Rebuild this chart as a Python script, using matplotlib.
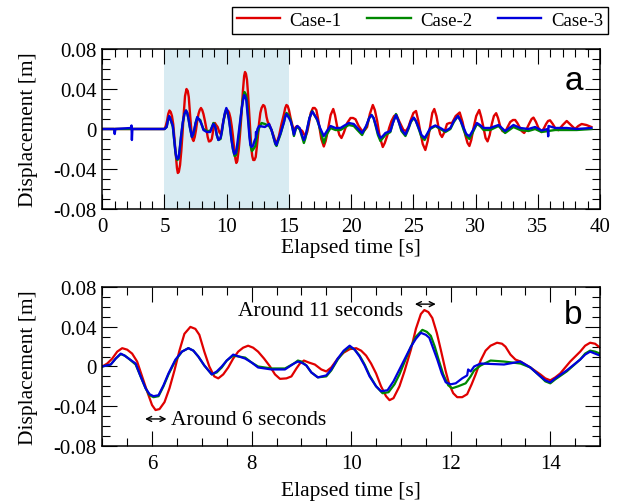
import numpy as np
import matplotlib
matplotlib.use("Agg")
import matplotlib.pyplot as plt
from matplotlib.ticker import MultipleLocator, FuncFormatter

plt.rcParams['font.family'] = ['Liberation Serif', 'DejaVu Serif']
plt.rcParams['axes.unicode_minus'] = False

# displacement histories: time [s], displacement [m]
t_case1 = [0.0, 4.9, 5.0, 5.1, 5.2, 5.3, 5.4, 5.5, 5.6, 5.7, 5.8, 5.9, 6.0, 6.07, 6.15, 6.25, 6.35,
           6.45, 6.55, 6.65, 6.77, 6.87, 6.95, 7.05, 7.15, 7.25, 7.33, 7.43, 7.53, 7.63, 7.73,
           7.83, 7.93, 8.03, 8.13, 8.25, 8.37, 8.47, 8.57, 8.7, 8.8, 8.9, 8.97, 9.05, 9.15, 9.27,
           9.4, 9.5, 9.6, 9.73, 9.85, 9.97, 10.1, 10.2, 10.3, 10.4, 10.5, 10.6, 10.7, 10.77,
           10.85, 10.97, 11.07, 11.2, 11.3, 11.4, 11.47, 11.55, 11.63, 11.72, 11.8, 11.9, 11.97,
           12.05, 12.13, 12.23, 12.33, 12.42, 12.5, 12.6, 12.7, 12.8, 12.93, 13.03, 13.1, 13.2,
           13.3, 13.4, 13.5, 13.6, 13.8, 13.9, 14.0, 14.1, 14.2, 14.4, 14.6, 14.7, 14.8, 14.9,
           15.0, 15.13, 15.27, 15.4, 15.55, 15.67, 15.85, 16.07, 16.2, 16.34, 16.47, 16.6, 16.75,
           16.93, 17.07, 17.2, 17.33, 17.46, 17.6, 17.8, 17.95, 18.05, 18.2, 18.35, 18.56, 18.7,
           18.88, 19.05, 19.22, 19.4, 19.68, 19.95, 20.15, 20.35, 20.6, 20.88, 21.1, 21.28, 21.5,
           21.74, 21.9, 22.09, 22.3, 22.54, 22.7, 22.89, 23.05, 23.24, 23.45, 23.64, 23.85,
           24.04, 24.2, 24.41, 24.6, 24.76, 25.0, 25.21, 25.4, 25.56, 25.75, 25.96, 26.15, 26.36,
           26.52, 26.68, 26.85, 27.03, 27.15, 27.3, 27.5, 27.7, 27.9, 28.1, 28.4, 28.72, 28.95,
           29.17, 29.35, 29.5, 29.65, 29.83, 30.05, 30.29, 30.45, 30.64, 30.8, 30.96, 31.13,
           31.3, 31.47, 31.65, 31.8, 31.97, 32.15, 32.37, 32.57, 32.78, 33.0, 33.18, 33.35,
           33.52, 33.7, 33.9, 34.1, 34.33, 34.5, 34.65, 34.85, 35.05, 35.3, 35.5, 35.66, 35.82,
           35.98, 36.2, 36.39, 36.65, 37.0, 37.32, 37.65, 37.99, 38.25, 38.52, 38.9, 39.3]
d_case1 = [0.0, 0.0, 0.0, 0.003, 0.008, 0.015, 0.0185, 0.017, 0.013, 0.005, -0.010, -0.025,
           -0.039, -0.044, -0.043, -0.036, -0.022, -0.004, 0.016, 0.033, 0.040, 0.038, 0.032,
           0.015, 0.0, -0.010, -0.012, -0.008, -0.001, 0.008, 0.015, 0.019, 0.021, 0.019, 0.015,
           0.008, 0.0, -0.008, -0.0125, -0.012, -0.010, -0.002, 0.003, 0.006, 0.004, 0.002,
           -0.003, -0.005, -0.001, 0.008, 0.014, 0.0175, 0.0185, 0.016, 0.011, 0.003, -0.007,
           -0.020, -0.030, -0.034, -0.032, -0.020, -0.005, 0.017, 0.038, 0.053, 0.057, 0.055,
           0.049, 0.034, 0.017, -0.005, -0.018, -0.027, -0.031, -0.031, -0.028, -0.018, -0.008,
           0.006, 0.016, 0.021, 0.024, 0.023, 0.020, 0.012, 0.007, 0.005, 0.002, -0.001, -0.008,
           -0.012, -0.014, -0.011, -0.007, 0.005, 0.015, 0.021, 0.024, 0.023, 0.019, 0.011,
           0.004, -0.002, 0.002, 0.003, 0.0, -0.002, -0.005, -0.007, -0.003, 0.005, 0.016, 0.021,
           0.021, 0.019, 0.011, 0.001, -0.010, -0.0175, -0.012, -0.006, 0.004, 0.014, 0.020,
           0.014, 0.002, -0.006, -0.009, -0.004, 0.006, 0.011, 0.011, 0.0097, 0.003, -0.002,
           -0.001, 0.002, 0.015, 0.024, 0.019, 0.008, -0.008, -0.018, -0.014, -0.007, 0.001,
           0.008, 0.013, 0.014, 0.008, 0.003, -0.001, -0.002, 0.002, 0.008, 0.016, 0.018, 0.008,
           -0.003, -0.015, -0.021, -0.012, 0.004, 0.016, 0.020, 0.013, 0.001, -0.005, -0.008,
           -0.003, 0.005, 0.006, 0.006, 0.013, 0.0165, 0.007, -0.006, -0.014, -0.017, -0.011,
           0.001, 0.013, 0.019, 0.012, 0.001, -0.009, -0.0124, -0.006, 0.005, 0.013, 0.0158,
           0.011, 0.003, -0.002, -0.003, 0.002, 0.007, 0.009, 0.009, 0.006, 0.002, -0.002,
           -0.004, 0.0, 0.006, 0.010, 0.0114, 0.007, 0.001, -0.003, 0.001, 0.005, 0.008, 0.0087,
           0.005, 0.001, -0.0012, 0.004, 0.008, 0.004, 0.0, 0.003, 0.005, 0.004, 0.002]

t_case2 = [0.0, 4.9, 5.0, 5.17, 5.27, 5.37, 5.45, 5.53, 5.67, 5.77, 5.87, 5.95, 6.03, 6.13, 6.23,
           6.33, 6.47, 6.6, 6.73, 6.83, 6.93, 7.05, 7.2, 7.3, 7.4, 7.5, 7.63, 7.75, 7.87, 8.0,
           8.13, 8.4, 8.67, 8.85, 8.93, 9.0, 9.1, 9.2, 9.33, 9.5, 9.6, 9.73, 9.85, 9.97, 10.07,
           10.17, 10.27, 10.37, 10.5, 10.63, 10.75, 10.87, 10.97, 11.1, 11.2, 11.3, 11.43, 11.52,
           11.6, 11.68, 11.75, 11.85, 11.95, 12.03, 12.15, 12.3, 12.4, 12.47, 12.6, 12.8, 13.07,
           13.4, 13.6, 13.8, 13.9, 14.0, 14.1, 14.33, 14.6, 14.7, 14.8, 14.9, 15.0, 15.13, 15.27,
           15.4, 15.55, 15.67, 15.86, 16.05, 16.2, 16.33, 16.47, 16.65, 16.87, 17.05, 17.27,
           17.5, 17.8, 18.05, 18.34, 18.74, 19.14, 19.4, 19.81, 20.21, 20.5, 20.88, 21.2, 21.45,
           21.63, 21.8, 21.95, 22.15, 22.35, 22.55, 22.75, 23.15, 23.35, 23.6, 23.8, 24.04,
           24.36, 24.6, 24.8, 25.03, 25.2, 25.43, 25.65, 25.9, 26.1, 26.36, 26.76, 27.17, 27.57,
           27.97, 28.25, 28.58, 28.8, 29.04, 29.25, 29.5, 29.75, 30.1, 30.35, 30.64, 31.17,
           31.84, 32.37, 33.04, 33.58, 34.25, 34.78, 35.3, 36.39, 37.32, 38.12, 39.3]
d_case2 = [0.0, 0.0, 0.0, 0.002, 0.008, 0.0125, 0.011, 0.008, 0.002, -0.010, -0.022, -0.029,
           -0.031, -0.030, -0.020, -0.008, 0.006, 0.015, 0.0185, 0.016, 0.010, 0.001, -0.008,
           -0.006, -0.001, 0.006, 0.011, 0.010, 0.009, 0.004, 0.0, -0.002, -0.002, 0.003, 0.006,
           0.005, 0.001, -0.006, -0.011, -0.010, -0.004, 0.007, 0.015, 0.020, 0.017, 0.011,
           0.002, -0.009, -0.020, -0.027, -0.026, -0.018, -0.008, 0.008, 0.020, 0.030, 0.037,
           0.035, 0.031, 0.020, 0.008, -0.008, -0.019, -0.022, -0.020, -0.017, -0.010, -0.004,
           0.001, 0.006, 0.005, 0.003, -0.001, -0.010, -0.015, -0.017, -0.013, -0.005, 0.007,
           0.013, 0.016, 0.015, 0.013, 0.009, 0.002, -0.007, 0.0, 0.002, 0.0, -0.008, -0.014,
           -0.009, 0.0, 0.011, 0.018, 0.014, 0.009, 0.0, -0.014, -0.005, 0.001, -0.001, -0.001,
           0.001, 0.004, 0.003, -0.001, -0.006, 0.002, 0.011, 0.014, 0.011, 0.004, -0.006,
           -0.012, -0.009, -0.006, -0.003, 0.006, 0.015, 0.008, -0.002, -0.007, 0.0, 0.007,
           0.011, 0.008, 0.0, -0.008, -0.011, -0.006, 0.0, 0.003, 0.0, -0.003, 0.0, 0.007, 0.013,
           0.008, -0.001, -0.007, -0.010, -0.004, 0.005, 0.003, -0.001, -0.001, 0.003, -0.004,
           0.002, -0.001, -0.002, 0.0, -0.003, -0.001, -0.001, -0.001, 0.0]

t_case3 = [0.0, 0.95, 1.0, 1.05, 2.3, 2.35, 2.38, 2.42, 4.9, 5.0, 5.17, 5.27, 5.37, 5.45, 5.53,
           5.67, 5.77, 5.87, 5.95, 6.03, 6.13, 6.23, 6.33, 6.47, 6.6, 6.73, 6.83, 6.93, 7.05, 7.2,
           7.3, 7.4, 7.5, 7.63, 7.75, 7.87, 8.0, 8.13, 8.4, 8.67, 8.85, 8.93, 9.0, 9.1, 9.2, 9.33,
           9.5, 9.6, 9.73, 9.85, 9.97, 10.07, 10.17, 10.27, 10.37, 10.5, 10.6, 10.73, 10.85,
           10.97, 11.1, 11.2, 11.3, 11.4, 11.5, 11.57, 11.65, 11.73, 11.82, 11.9, 12.0, 12.1,
           12.23, 12.33, 12.35, 12.4, 12.47, 12.6, 13.07, 13.4, 13.6, 13.8, 13.9, 14.0, 14.1,
           14.33, 14.6, 14.7, 14.8, 14.9, 15.0, 15.13, 15.27, 15.4, 15.55, 15.67, 15.86, 16.05,
           16.2, 16.33, 16.47, 16.65, 16.87, 17.05, 17.27, 17.5, 17.8, 18.05, 18.34, 18.74,
           19.14, 19.4, 19.81, 20.21, 20.5, 20.88, 21.2, 21.45, 21.63, 21.8, 21.95, 22.15, 22.35,
           22.55, 22.75, 23.15, 23.35, 23.6, 23.8, 24.04, 24.36, 24.6, 24.8, 25.03, 25.2, 25.43,
           25.65, 25.9, 26.1, 26.36, 26.76, 27.17, 27.57, 27.97, 28.25, 28.58, 28.8, 29.04,
           29.25, 29.5, 29.75, 30.1, 30.35, 30.64, 31.17, 31.84, 32.37, 33.04, 33.58, 34.25,
           34.78, 35.3, 35.8, 35.83, 35.86, 36.39, 37.32, 38.12, 39.3]
d_case3 = [0.0, 0.0, -0.005, 0.0, 0.001, 0.0035, -0.011, 0.0, 0.0, 0.0, 0.002, 0.008, 0.013,
           0.011, 0.008, 0.003, -0.010, -0.022, -0.028, -0.030, -0.029, -0.019, -0.007, 0.007,
           0.015, 0.0185, 0.016, 0.010, 0.001, -0.008, -0.005, 0.0, 0.006, 0.012, 0.010, 0.008,
           0.004, -0.001, -0.003, -0.003, 0.003, 0.005, 0.004, 0.001, -0.006, -0.011, -0.009,
           -0.003, 0.008, 0.016, 0.021, 0.017, 0.010, 0.001, -0.010, -0.020, -0.025, -0.024,
           -0.015, -0.003, 0.010, 0.020, 0.028, 0.034, 0.032, 0.029, 0.018, 0.007, -0.007,
           -0.016, -0.018, -0.017, -0.012, -0.009, -0.003, -0.005, 0.0, 0.003, 0.002, 0.005,
           -0.001, -0.010, -0.014, -0.016, -0.012, -0.004, 0.007, 0.012, 0.015, 0.013, 0.011,
           0.008, 0.002, -0.0056, 0.001, 0.003, 0.001, -0.006, -0.011, -0.007, 0.001, 0.011,
           0.0175, 0.014, 0.0097, 0.001, -0.007, -0.002, 0.003, 0.001, 0.001, 0.003, 0.006,
           0.005, 0.001, -0.004, 0.003, 0.011, 0.014, 0.011, 0.005, -0.004, -0.009, -0.007,
           -0.004, -0.002, 0.006, 0.014, 0.008, -0.0005, -0.0056, 0.001, 0.008, 0.0114, 0.008,
           0.001, -0.006, -0.009, -0.005, 0.001, 0.0035, 0.001, -0.002, 0.001, 0.008, 0.013,
           0.008, 0.001, -0.005, -0.0073, -0.002, 0.006, 0.004, 0.001, 0.001, 0.004, -0.002,
           0.004, 0.001, 0.0, 0.002, -0.0015, 0.0, -0.0073, 0.003, 0.001, 0.001, 0.0, 0.001]

cases = [("Case-1", t_case1, d_case1, "#e00000"),
         ("Case-2", t_case2, d_case2, "#008800"),
         ("Case-3", t_case3, d_case3, "#0000dd")]

zoom_start, zoom_end = 5, 15


def yfmt(v, pos):
    if abs(v) < 1e-9:
        return "0"
    return "%.2f" % v


def style_axes(ax, xmajor, xminor, xlabelpad):
    ax.set_ylim(-0.08, 0.08)
    ax.yaxis.set_major_locator(MultipleLocator(0.04))
    ax.yaxis.set_minor_locator(MultipleLocator(0.01))
    ax.yaxis.set_major_formatter(FuncFormatter(yfmt))
    ax.xaxis.set_major_locator(MultipleLocator(xmajor))
    ax.xaxis.set_minor_locator(MultipleLocator(xminor))
    ax.tick_params(which='both', direction='in', top=True, right=True, labelsize=15, width=0.8)
    ax.tick_params(which='major', length=11)
    ax.tick_params(which='minor', length=5.5)
    ax.tick_params(axis='x', which='major', pad=6)
    ax.tick_params(axis='y', which='major', pad=4)
    for s in ax.spines.values():
        s.set_linewidth(1.1)
    ax.set_xlabel("Elapsed time [s]", fontsize=15.5, labelpad=xlabelpad)
    ax.set_ylabel("Displacement [m]", fontsize=15.5, labelpad=11)


fig = plt.figure(figsize=(6.29, 5.02), dpi=100)
ax_a = fig.add_axes([0.1626, 0.5817, 0.7914, 0.3187])
ax_b = fig.add_axes([0.1626, 0.1102, 0.7914, 0.3155])

# (a) whole record, window of (b) shaded
ax_a.axvspan(zoom_start, zoom_end, color="#d8ebf2", lw=0, zorder=0)
for name, t, d, c in cases:
    ax_a.plot(t, d, color=c, lw=1.7, label=name)
ax_a.set_xlim(0, 40)
style_axes(ax_a, 5, 1, 1)
ax_a.text(0.965, 0.80, "a", transform=ax_a.transAxes, fontsize=24,
          family='Liberation Sans', ha='right', va='center')

# (b) close-up 5-15 s
for name, t, d, c in cases:
    ax_b.plot(t, d, color=c, lw=1.6)
ax_b.set_xlim(zoom_start, zoom_end)
style_axes(ax_b, 2, 0.5, 6)
ax_b.text(0.965, 0.83, "b", transform=ax_b.transAxes, fontsize=24,
          family='Liberation Sans', ha='right', va='center')

ax_b.annotate("", xy=(11.28, 0.063), xytext=(11.70, 0.063),
              arrowprops=dict(arrowstyle="<->", color="black", lw=1.0,
                              shrinkA=0, shrinkB=0, mutation_scale=9))
ax_b.text(11.05, 0.0565, "Around 11 seconds", fontsize=15.5, ha='right', va='center')
ax_b.annotate("", xy=(5.86, -0.053), xytext=(6.29, -0.053),
              arrowprops=dict(arrowstyle="<->", color="black", lw=1.0,
                              shrinkA=0, shrinkB=0, mutation_scale=9))
ax_b.text(6.38, -0.0535, "Around 6 seconds", fontsize=15.5, ha='left', va='center')

leg = fig.legend(loc='upper right', bbox_to_anchor=(0.966, 0.984), ncol=3, fontsize=13.5,
                 frameon=True, fancybox=False, edgecolor='black', framealpha=1,
                 handlelength=2.3, handletextpad=0.5, columnspacing=1.4,
                 borderpad=0.25, borderaxespad=0)
leg.get_frame().set_linewidth(1.0)

fig.savefig("out.png", dpi=100)
